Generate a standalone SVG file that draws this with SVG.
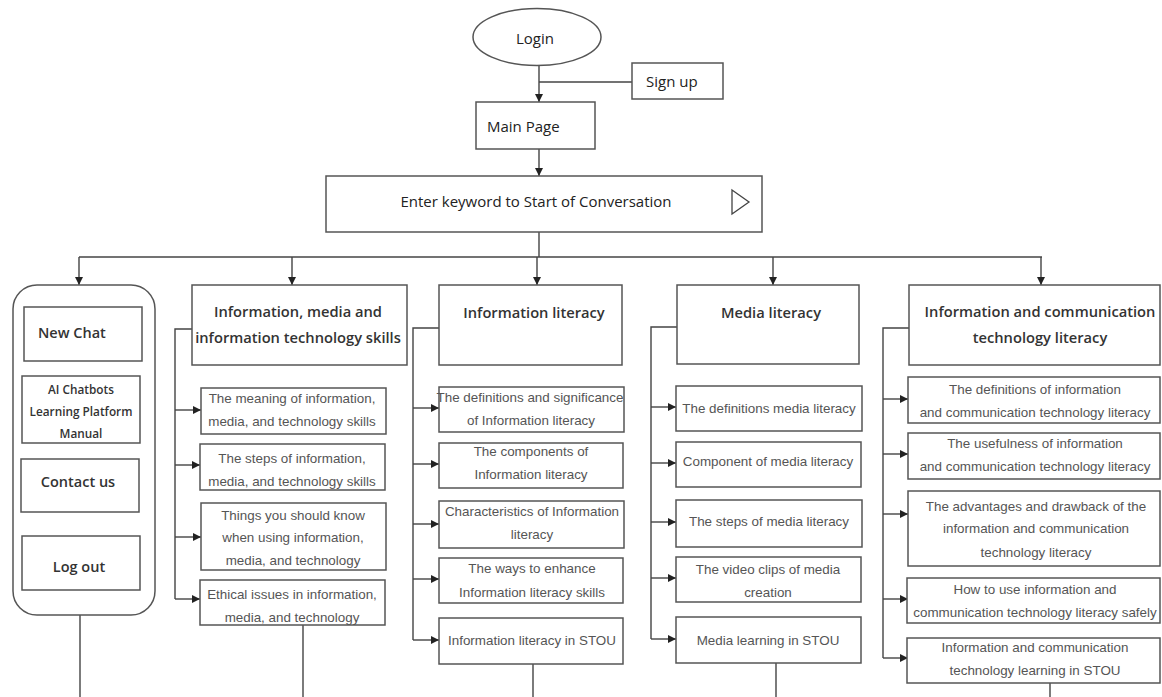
<svg xmlns="http://www.w3.org/2000/svg" width="1162" height="697" viewBox="0 0 1162 697">
<defs>
<marker id="ah" markerUnits="userSpaceOnUse" markerWidth="9" markerHeight="8" refX="8" refY="4" orient="auto">
<path d="M0,0 L8,4 L0,8 Z" fill="#222"/>
</marker>
<style>
.box{fill:#fff;stroke:#555;stroke-width:1.5}
.ln{fill:none;stroke:#444;stroke-width:1.4}
.ar{fill:none;stroke:#444;stroke-width:1.4;marker-end:url(#ah)}
.top{font-family:"Open Sans","Noto Sans",sans-serif;font-size:15px;fill:#222}
.hd{font-family:"Open Sans","Noto Sans",sans-serif;font-size:14.7px;font-weight:600;fill:#333;text-anchor:middle}
.sb{font-family:"Liberation Sans",Arial,sans-serif;font-size:13.4px;fill:#555;text-anchor:middle}
.lp{font-family:"Open Sans","Noto Sans",sans-serif;font-size:14.5px;font-weight:600;fill:#333}
.ai{font-family:"Open Sans","Noto Sans",sans-serif;font-size:11.8px;font-weight:600;fill:#333;text-anchor:middle}
</style>
</defs>
<rect width="1162" height="697" fill="#fff"/>

<g id="connectors">
<line class="ar" x1="539" y1="65" x2="539" y2="102"/>
<line class="ln" x1="539" y1="82" x2="632" y2="82"/>
<line class="ar" x1="539" y1="149" x2="539" y2="176"/>
<line class="ln" x1="539" y1="232" x2="539" y2="257"/>
<line class="ln" x1="79" y1="257" x2="1042" y2="257"/>
<line class="ar" x1="79" y1="257" x2="79" y2="285"/>
<line class="ar" x1="292" y1="257" x2="292" y2="285"/>
<line class="ar" x1="537" y1="257" x2="537" y2="285"/>
<line class="ar" x1="773" y1="257" x2="773" y2="285"/>
<line class="ar" x1="1041" y1="257" x2="1041" y2="285"/>
<polyline class="ln" points="201,329 175,329 175,599"/>
<line class="ar" x1="175" y1="410" x2="201" y2="410"/>
<line class="ar" x1="175" y1="465" x2="200" y2="465"/>
<line class="ar" x1="175" y1="537" x2="201" y2="537"/>
<line class="ar" x1="175" y1="599" x2="200" y2="599"/>
<polyline class="ln" points="439,328 413,328 413,640"/>
<line class="ar" x1="413" y1="408" x2="439" y2="408"/>
<line class="ar" x1="413" y1="464" x2="439" y2="464"/>
<line class="ar" x1="413" y1="524" x2="439" y2="524"/>
<line class="ar" x1="413" y1="579" x2="439" y2="579"/>
<line class="ar" x1="413" y1="640" x2="439" y2="640"/>
<polyline class="ln" points="677,327 651,327 651,639"/>
<line class="ar" x1="651" y1="407" x2="676" y2="407"/>
<line class="ar" x1="651" y1="463" x2="676" y2="463"/>
<line class="ar" x1="651" y1="522" x2="676" y2="522"/>
<line class="ar" x1="651" y1="578" x2="676" y2="578"/>
<line class="ar" x1="651" y1="639" x2="676" y2="639"/>
<polyline class="ln" points="909,328 883,328 883,658"/>
<line class="ar" x1="883" y1="399" x2="908" y2="399"/>
<line class="ar" x1="883" y1="454" x2="908" y2="454"/>
<line class="ar" x1="883" y1="514" x2="908" y2="514"/>
<line class="ar" x1="883" y1="599" x2="908" y2="599"/>
<line class="ar" x1="883" y1="658" x2="908" y2="658"/>
<line class="ln" x1="80" y1="615" x2="80" y2="697"/>
<line class="ln" x1="303" y1="625" x2="303" y2="697"/>
<line class="ln" x1="533" y1="664" x2="533" y2="697"/>
<line class="ln" x1="776" y1="663" x2="776" y2="697"/>
<line class="ln" x1="1050" y1="683" x2="1050" y2="697"/>
</g>

<g id="login">
<ellipse class="box" cx="537" cy="37" rx="64" ry="28.5"/>
<text class="top" x="535" y="44" text-anchor="middle" font-size="17">Login</text>
</g>
<g id="signup">
<rect class="box" x="632" y="63" width="91" height="36"/>
<text class="top" x="646" y="86.5">Sign up</text>
</g>
<g id="mainpage">
<rect class="box" x="476" y="102" width="119" height="47"/>
<text class="top" x="487" y="131.5" font-size="14.5">Main Page</text>
</g>
<g id="enter">
<rect class="box" x="326" y="176" width="436" height="56"/>
<text class="top" x="536" y="207" text-anchor="middle">Enter keyword to Start of Conversation</text>
<polygon points="732,190 749,202 732,214" fill="none" stroke="#444" stroke-width="1.3"/>
</g>

<g id="sidebar">
<rect class="box" x="13" y="285" width="142" height="330" rx="24" ry="24"/>
</g>
<g id="newchat">
<rect class="box" x="24" y="307" width="118" height="54"/>
<text class="lp" x="38" y="338">New Chat</text>
</g>
<g id="manual">
<rect class="box" x="22" y="376" width="118" height="67"/>
<text class="ai"><tspan x="81" y="394">AI Chatbots</tspan><tspan x="81" y="415.5">Learning Platform</tspan><tspan x="81" y="437.5">Manual</tspan></text>
</g>
<g id="contact">
<rect class="box" x="21" y="459" width="118" height="53"/>
<text class="lp" x="78" y="487" text-anchor="middle">Contact us</text>
</g>
<g id="logout">
<rect class="box" x="22" y="536" width="118" height="54"/>
<text class="lp" x="79" y="572" text-anchor="middle">Log out</text>
</g>

<g id="col2-header">
<rect class="box" x="192" y="285" width="215" height="80"/>
<text class="hd"><tspan x="298" y="317">Information, media and</tspan><tspan x="298" y="343">information technology skills</tspan></text>
</g>
<g id="col2-1">
<rect class="box" x="201" y="388" width="185" height="46"/>
<text class="sb"><tspan x="292" y="403">The meaning of information,</tspan><tspan x="292" y="426">media, and technology skills</tspan></text>
</g>
<g id="col2-2">
<rect class="box" x="200" y="444" width="185" height="46"/>
<text class="sb"><tspan x="292" y="463">The steps of information,</tspan><tspan x="292" y="485.5">media, and technology skills</tspan></text>
</g>
<g id="col2-3">
<rect class="box" x="201" y="503" width="185" height="67"/>
<text class="sb"><tspan x="293" y="519.5">Things you should know</tspan><tspan x="293" y="542">when using information,</tspan><tspan x="293" y="565">media, and technology</tspan></text>
</g>
<g id="col2-4">
<rect class="box" x="200" y="580" width="185" height="45"/>
<text class="sb"><tspan x="292" y="599">Ethical issues in information,</tspan><tspan x="292" y="622">media, and technology</tspan></text>
</g>

<g id="col3-header">
<rect class="box" x="439" y="285" width="183" height="80"/>
<text class="hd" x="534" y="318">Information literacy</text>
</g>
<g id="col3-1">
<rect class="box" x="439" y="387" width="185" height="45"/>
<text class="sb"><tspan x="530" y="402">The definitions and significance</tspan><tspan x="531" y="424.5">of Information literacy</tspan></text>
</g>
<g id="col3-2">
<rect class="box" x="439" y="443" width="184" height="45"/>
<text class="sb"><tspan x="531" y="456">The components of</tspan><tspan x="531" y="479">Information literacy</tspan></text>
</g>
<g id="col3-3">
<rect class="box" x="439" y="501" width="185" height="47"/>
<text class="sb"><tspan x="532" y="515.5">Characteristics of Information</tspan><tspan x="532" y="539">literacy</tspan></text>
</g>
<g id="col3-4">
<rect class="box" x="439" y="558" width="184" height="45"/>
<text class="sb"><tspan x="532" y="573">The ways to enhance</tspan><tspan x="532" y="596.5">Information literacy skills</tspan></text>
</g>
<g id="col3-5">
<rect class="box" x="439" y="618" width="184" height="46"/>
<text class="sb" x="532" y="645">Information literacy in STOU</text>
</g>

<g id="col4-header">
<rect class="box" x="677" y="285" width="182" height="79"/>
<text class="hd" x="771" y="318">Media literacy</text>
</g>
<g id="col4-1">
<rect class="box" x="676" y="386" width="186" height="45"/>
<text class="sb" x="769" y="413">The definitions media literacy</text>
</g>
<g id="col4-2">
<rect class="box" x="676" y="442" width="185" height="45"/>
<text class="sb" x="768" y="466">Component of media literacy</text>
</g>
<g id="col4-3">
<rect class="box" x="676" y="500" width="186" height="47"/>
<text class="sb" x="769" y="526">The steps of media literacy</text>
</g>
<g id="col4-4">
<rect class="box" x="676" y="557" width="185" height="45"/>
<text class="sb"><tspan x="768" y="574">The video clips of media</tspan><tspan x="768" y="597">creation</tspan></text>
</g>
<g id="col4-5">
<rect class="box" x="676" y="617" width="185" height="46"/>
<text class="sb" x="768" y="644.5">Media learning in STOU</text>
</g>

<g id="col5-header">
<rect class="box" x="909" y="285" width="251" height="80"/>
<text class="hd"><tspan x="1040" y="317">Information and communication</tspan><tspan x="1040" y="343">technology literacy</tspan></text>
</g>
<g id="col5-1">
<rect class="box" x="908" y="377" width="252" height="46"/>
<text class="sb"><tspan x="1035" y="393.5">The definitions of information</tspan><tspan x="1035" y="417">and communication technology literacy</tspan></text>
</g>
<g id="col5-2">
<rect class="box" x="908" y="433" width="252" height="46"/>
<text class="sb"><tspan x="1035" y="448">The usefulness of information</tspan><tspan x="1035" y="471">and communication technology literacy</tspan></text>
</g>
<g id="col5-3">
<rect class="box" x="908" y="491" width="252" height="75"/>
<text class="sb"><tspan x="1036" y="510.5">The advantages and drawback of the</tspan><tspan x="1036" y="533">information and communication</tspan><tspan x="1036" y="557">technology literacy</tspan></text>
</g>
<g id="col5-4">
<rect class="box" x="907" y="578" width="253" height="45"/>
<text class="sb"><tspan x="1035" y="594">How to use information and</tspan><tspan x="1035" y="616.5">communication technology literacy safely</tspan></text>
</g>
<g id="col5-5">
<rect class="box" x="907" y="638" width="253" height="45"/>
<text class="sb"><tspan x="1035" y="652">Information and communication</tspan><tspan x="1035" y="674.5">technology learning in STOU</tspan></text>
</g>
</svg>
